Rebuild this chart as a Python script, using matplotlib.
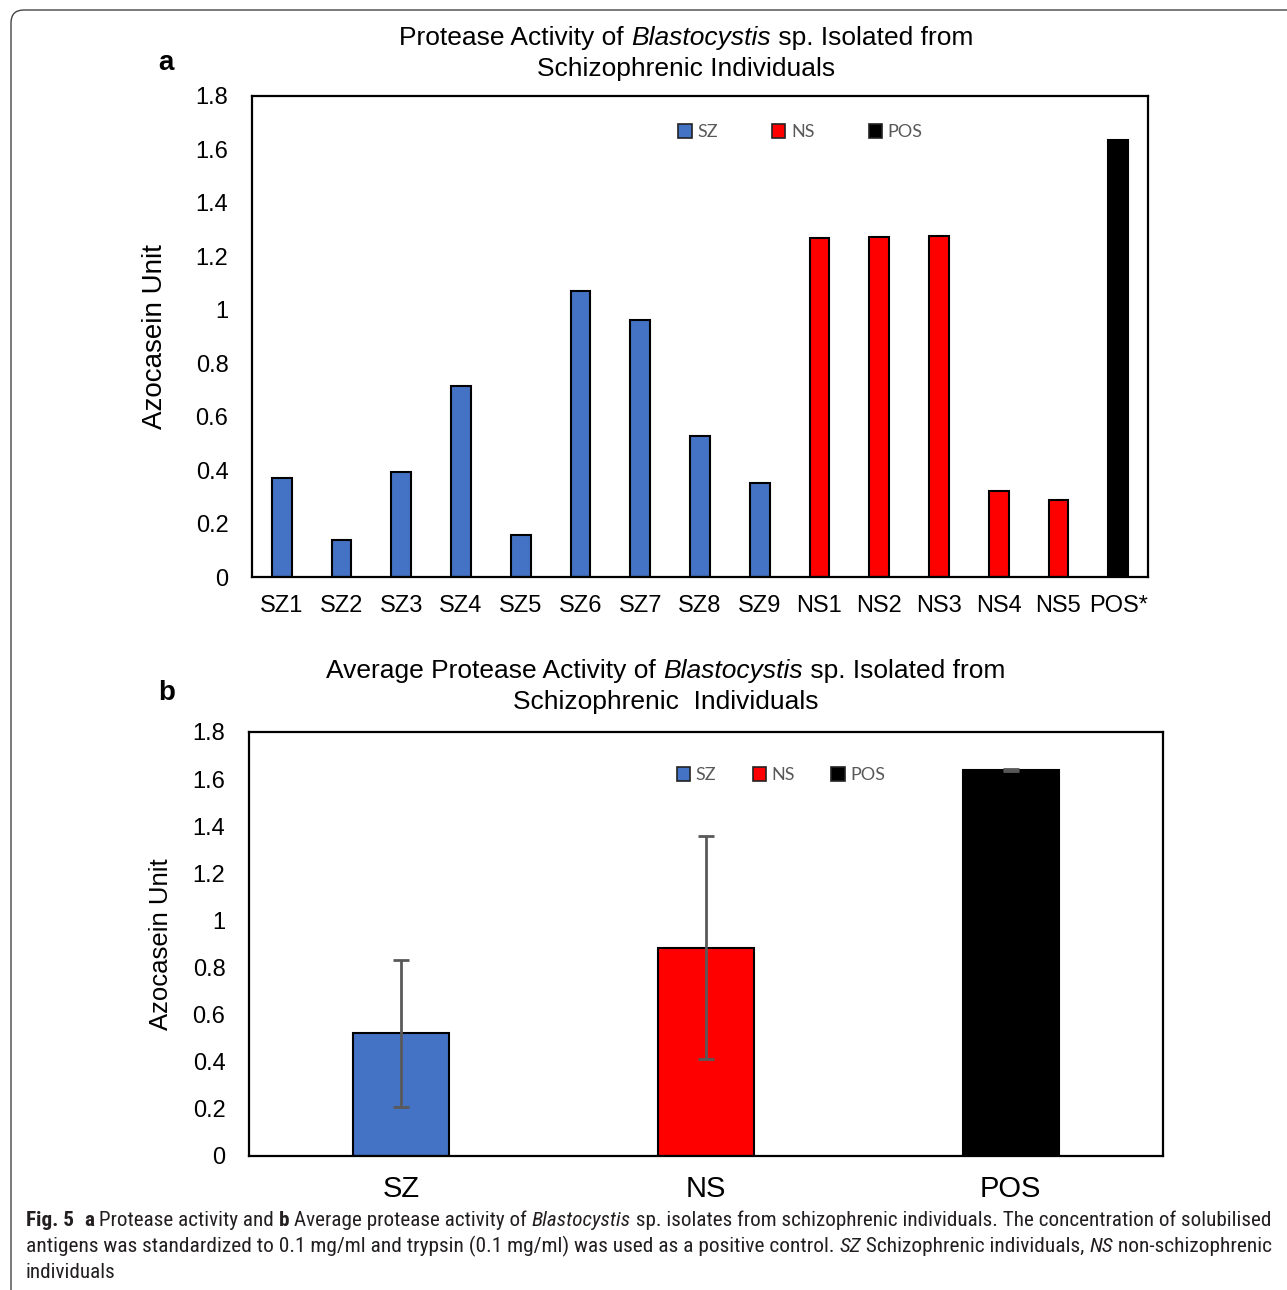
import numpy as np
import matplotlib
matplotlib.use("Agg")
import matplotlib.pyplot as plt
from matplotlib import font_manager
from matplotlib.patches import FancyBboxPatch, Patch

W, H = 1287, 1290

# panel a: individual isolates
names_a = ["SZ1", "SZ2", "SZ3", "SZ4", "SZ5", "SZ6", "SZ7", "SZ8", "SZ9",
           "NS1", "NS2", "NS3", "NS4", "NS5", "POS*"]
values_a = [0.37, 0.14, 0.393, 0.715, 0.158, 1.071, 0.963, 0.528, 0.351,
            1.269, 1.272, 1.276, 0.322, 0.288, 1.636]
groups_a = ["SZ"] * 9 + ["NS"] * 5 + ["POS"]

# panel b: group averages
names_b = ["SZ", "NS", "POS"]
means_b = [0.521, 0.884, 1.64]
sd_b = [0.312, 0.473, 0.004]

yticks = [0, 0.2, 0.4, 0.6, 0.8, 1.0, 1.2, 1.4, 1.6, 1.8]
ytick_labels = ["0", "0.2", "0.4", "0.6", "0.8", "1", "1.2", "1.4", "1.6", "1.8"]

colors = {"SZ": "#4472C4", "NS": "#FF0000", "POS": "#000000"}

have = {f.name for f in font_manager.fontManager.ttflist}
chart_font = "Liberation Sans"
legend_font = "Lato" if "Lato" in have else "DejaVu Sans"
cap_font = "DejaVu Sans"
for cand in ["Liberation Sans Narrow", "Roboto Condensed", "Open Sans Condensed", "DejaVu Sans"]:
    if cand in have:
        cap_font = cand
        break

fig = plt.figure(figsize=(W / 100, H / 100), dpi=100)
renderer = fig.canvas.get_renderer()


def px(x, y):
    return x / W, 1 - y / H


def make_runs(parts, size, family, color, stretch="normal"):
    bar = fig.text(0, 0, "|", fontsize=size, family=family, fontstretch=stretch)
    wbar = bar.get_window_extent(renderer).width
    bar.remove()
    items = []
    for s, style, weight in parts:
        t = fig.text(0, 0, s + "|", fontsize=size, family=family, fontstretch=stretch,
                     fontstyle=style, fontweight=weight)
        w = t.get_window_extent(renderer).width - wbar
        t.remove()
        t = fig.text(0, 0, s, fontsize=size, family=family, color=color,
                     fontstretch=stretch, fontstyle=style, fontweight=weight,
                     va="baseline", ha="left")
        items.append((t, w))
    return items


def put_runs(x, y, parts, size, family, color="black", ha="center",
             fit=None, stretch="normal"):
    # parts: (text, style, weight); draws runs one after another on a baseline
    items = make_runs(parts, size, family, color, stretch)
    total = sum(w for _, w in items)
    if fit is not None:
        for t, _ in items:
            t.remove()
        size = size * fit / total
        items = make_runs(parts, size, family, color, stretch)
        total = sum(w for _, w in items)
    x0 = x - total / 2 if ha == "center" else x
    for t, w in items:
        t.set_position(px(x0, y))
        x0 += w
    return size


# outer frame with rounded corner
frame = FancyBboxPatch(px(11, 1400), (1400 - 11) / W, (1400 - 10) / H,
                       boxstyle="round,pad=0,rounding_size=0.01",
                       transform=fig.transFigure, fill=False,
                       edgecolor="#444444", linewidth=1.0, clip_on=False)
fig.patches.append(frame)

handles = [Patch(facecolor=colors[g], edgecolor="#222222", linewidth=1.2, label=g)
           for g in ["SZ", "NS", "POS"]]

# ---- panel a ----
ax1 = fig.add_axes([252 / W, 1 - 577 / H, (1148 - 252) / W, (577 - 96) / H])
xa = np.arange(len(names_a))
ax1.bar(xa, values_a, width=0.33, color=[colors[g] for g in groups_a],
        edgecolor="black", linewidth=1.5, zorder=2)
ax1.set_xlim(-0.5, len(names_a) - 0.5)
ax1.set_ylim(0, 1.8)
ax1.set_yticks(yticks)
ax1.set_yticklabels(ytick_labels)
ax1.set_xticks(xa)
ax1.set_xticklabels(names_a)
ax1.tick_params(length=0, labelsize=17, pad=13)
ax1.tick_params(axis="y", pad=17)
ax1.set_ylabel("Azocasein Unit", fontsize=20, family=chart_font, labelpad=20)

leg1 = ax1.legend(handles=handles, loc="upper center", bbox_to_anchor=(0.612, 0.975),
                  ncol=3, frameon=False, handlelength=0.75,
                  handleheight=0.75, handletextpad=0.3, columnspacing=3.0,
                  prop={"family": legend_font, "size": 13})
for t in leg1.get_texts():
    t.set_color("#595959")

put_runs(686, 45, [("Protease Activity of ", "normal", "normal"),
                   ("Blastocystis", "italic", "normal"),
                   (" sp. Isolated from", "normal", "normal")], 19, chart_font)
put_runs(686, 76, [("Schizophrenic Individuals", "normal", "normal")], 19, chart_font)
fig.text(*px(158, 70), "a", fontsize=20, fontweight="bold", family=chart_font)

# ---- panel b ----
ax2 = fig.add_axes([249 / W, 1 - 1156 / H, (1163 - 249) / W, (1156 - 732) / H])
xb = np.arange(len(names_b))
ax2.bar(xb, means_b, width=0.315, color=[colors[n] for n in names_b],
        edgecolor="black", linewidth=1.5, zorder=2)
ax2.errorbar(xb, means_b, yerr=sd_b, fmt="none", ecolor="#595959",
             elinewidth=2, capsize=6, capthick=2, zorder=3)
ax2.set_xlim(-0.5, 2.5)
ax2.set_ylim(0, 1.8)
ax2.set_yticks(yticks)
ax2.set_yticklabels(ytick_labels)
ax2.set_xticks(xb)
ax2.set_xticklabels(names_b)
ax2.tick_params(length=0, labelsize=17, pad=17)
ax2.tick_params(axis="x", labelsize=21, pad=14)
ax2.set_ylabel("Azocasein Unit", fontsize=18.5, family=chart_font, labelpad=14)

leg2 = ax2.legend(handles=handles, loc="upper center", bbox_to_anchor=(0.582, 0.955),
                  ncol=3, frameon=False, handlelength=0.75, handleheight=0.75,
                  handletextpad=0.3, columnspacing=2.0,
                  prop={"family": legend_font, "size": 13})
for t in leg2.get_texts():
    t.set_color("#595959")

put_runs(666, 678, [("Average Protease Activity of ", "normal", "normal"),
                    ("Blastocystis", "italic", "normal"),
                    (" sp. Isolated from", "normal", "normal")], 19, chart_font)
put_runs(666, 709, [("Schizophrenic  Individuals", "normal", "normal")], 19, chart_font)
fig.text(*px(158, 700), "b", fontsize=20, fontweight="bold", family=chart_font)

for ax in (ax1, ax2):
    for sp in ax.spines.values():
        sp.set_linewidth(1.6)
    for lab in ax.get_xticklabels() + ax.get_yticklabels():
        lab.set_family(chart_font)

# ---- caption ----
cap = "#231f20"
line1 = [("Fig. 5", "normal", "bold"), ("  ", "normal", "normal"),
         ("a", "normal", "bold"),
         (" Protease activity and ", "normal", "normal"),
         ("b", "normal", "bold"),
         (" Average protease activity of ", "normal", "normal"),
         ("Blastocystis", "italic", "normal"),
         (" sp. isolates from schizophrenic individuals. The concentration of solubilised",
          "normal", "normal")]
line2 = [("antigens was standardized to 0.1 mg/ml and trypsin (0.1 mg/ml) was used as a positive control. ",
          "normal", "normal"),
         ("SZ", "italic", "normal"),
         (" Schizophrenic individuals, ", "normal", "normal"),
         ("NS", "italic", "normal"),
         (" non-schizophrenic", "normal", "normal")]
s1 = put_runs(26, 1226, line1, 13, cap_font, cap, ha="left", fit=1241, stretch="condensed")
put_runs(26, 1252, line2, 13, cap_font, cap, ha="left", fit=1239, stretch="condensed")
put_runs(26, 1278, [("individuals", "normal", "normal")], s1, cap_font, cap,
         ha="left", stretch="condensed")

fig.savefig("out.png", dpi=100)
